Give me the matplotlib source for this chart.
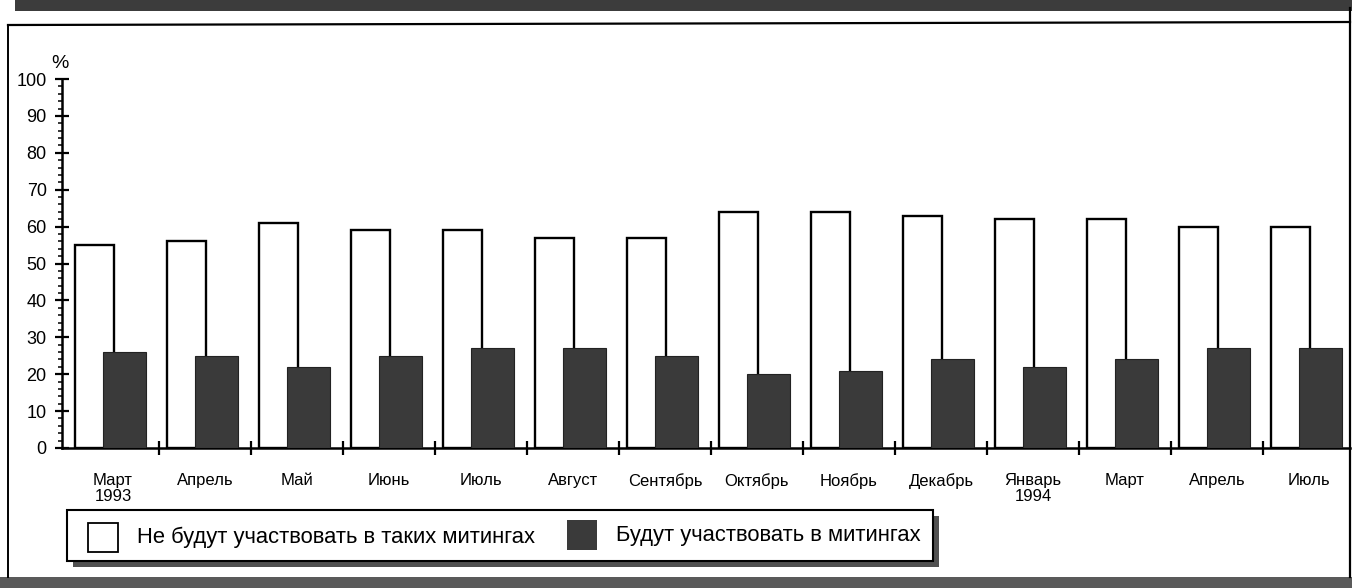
import numpy as np
import matplotlib.pyplot as plt
from matplotlib.patches import Rectangle
from matplotlib.lines import Line2D
from matplotlib.ticker import MultipleLocator

plt.rcParams['font.family'] = ['Liberation Sans', 'DejaVu Sans']

months = ['Март\n1993', 'Апрель', 'Май', 'Июнь', 'Июль', 'Август', 'Сентябрь',
          'Октябрь', 'Ноябрь', 'Декабрь', 'Январь\n1994', 'Март', 'Апрель', 'Июль']
not_attend = [55, 56, 61, 59, 59, 57, 57, 64, 64, 63, 62, 62, 60, 60]
attend = [26, 25, 22, 25, 27, 27, 25, 20, 21, 24, 22, 24, 27, 27]
legend_labels = ['Не будут участвовать в таких митингах', 'Будут участвовать в митингах']

W, H = 1352, 588
dark = '#3a3a3a'

fig = plt.figure(figsize=(W / 100, H / 100), dpi=100)


def fx(px):
    return px / W


def fy(py):
    return 1 - py / H


# axes: y axis at x=62px, zero line ~448px, 100 at ~79px
ax = fig.add_axes([fx(62), fy(448), fx(1350 - 62), (448 - 79) / H])

x = np.arange(len(months))
ax.bar(x - 0.20, not_attend, width=0.42, color='white', edgecolor='black',
       linewidth=1.7, zorder=2)
ax.bar(x + 0.125, attend, width=0.47, color=dark, edgecolor='#222222',
       linewidth=0.8, zorder=3)

ax.set_ylim(0, 100)
ax.set_xlim(-0.554, 13.446)

for s in ['top', 'right']:
    ax.spines[s].set_visible(False)
ax.spines['left'].set_linewidth(1.8)
ax.spines['bottom'].set_linewidth(1.8)

ax.yaxis.set_major_locator(MultipleLocator(10))
ax.yaxis.set_minor_locator(MultipleLocator(2))
ax.tick_params(axis='y', which='major', direction='inout', length=10, width=1.6,
               labelsize=13, pad=6)
ax.tick_params(axis='y', which='minor', direction='out', length=3, width=1.1)

# group boundaries as crossing ticks, labels centered on groups
ax.set_xticks(x[:-1] + 0.5)
ax.set_xticklabels([])
ax.tick_params(axis='x', which='major', direction='inout', length=10, width=1.6)
ax.set_xticks(x, minor=True)
ax.set_xticklabels(months, minor=True, fontsize=12, linespacing=1.05)
ax.tick_params(axis='x', which='minor', length=0, pad=18)

fig.text(fx(60), fy(63), '%', ha='center', va='center', fontsize=14)

# legend box with shadow
lx0, ly0, lx1, ly1 = 67, 510, 933, 561
fig.add_artist(Rectangle((fx(lx0 + 6), fy(ly1 + 6)), fx(lx1 - lx0), (ly1 - ly0) / H,
                         transform=fig.transFigure, facecolor='#505050',
                         edgecolor='none', zorder=4))
fig.add_artist(Rectangle((fx(lx0), fy(ly1)), fx(lx1 - lx0), (ly1 - ly0) / H,
                         transform=fig.transFigure, facecolor='white',
                         edgecolor='black', linewidth=1.5, zorder=5))
fig.add_artist(Rectangle((fx(88), fy(552)), fx(30), 29 / H,
                         transform=fig.transFigure, facecolor='white',
                         edgecolor='black', linewidth=1.3, zorder=6))
fig.text(fx(137), fy(537), legend_labels[0], fontsize=15.8, va='center',
         ha='left', zorder=6)
fig.add_artist(Rectangle((fx(567), fy(550)), fx(30), 30 / H,
                         transform=fig.transFigure, facecolor=dark,
                         edgecolor='none', zorder=6))
fig.text(fx(616), fy(535), legend_labels[1], fontsize=15.8, va='center',
         ha='left', zorder=6)

# outer frame of the scanned page
fig.add_artist(Rectangle((fx(15), fy(11)), fx(W - 15), 11 / H,
                         transform=fig.transFigure, facecolor='#3c3c3c',
                         edgecolor='none'))
fig.add_artist(Rectangle((0, 0), 1, 11 / H, transform=fig.transFigure,
                         facecolor='#5a5a5a', edgecolor='none'))
fig.add_artist(Line2D([fx(8), fx(1350)], [fy(25), fy(22)], transform=fig.transFigure,
                      color='black', linewidth=1.6))
fig.add_artist(Line2D([fx(8), fx(8)], [fy(25), fy(577)], transform=fig.transFigure,
                      color='black', linewidth=1.4))
fig.add_artist(Line2D([fx(1350), fx(1350)], [fy(8), fy(577)], transform=fig.transFigure,
                      color='black', linewidth=1.6))

fig.savefig('out.png', dpi=100)
